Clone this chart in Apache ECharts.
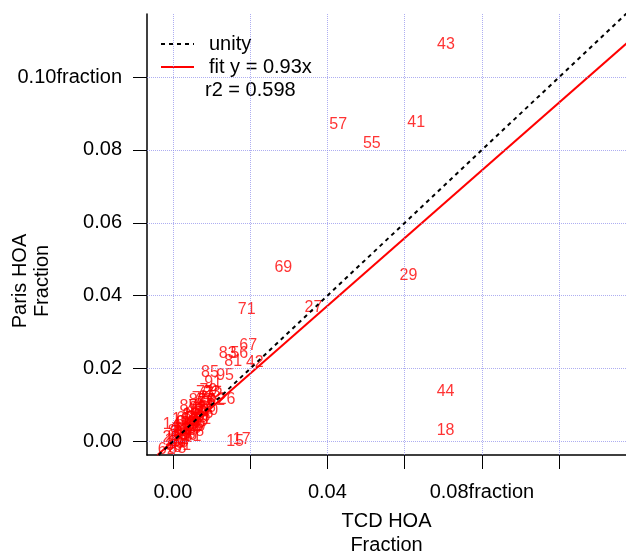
<!DOCTYPE html>
<html>
<head>
<meta charset="utf-8">
<script src="https://cdn.jsdelivr.net/npm/echarts@6/dist/echarts.min.js"></script>
<style>
  html, body { margin: 0; padding: 0; background: #fff; }
  #chart { width: 626px; height: 552px; }
</style>
</head>
<body>
<div id="chart"></div>
<script>
// Sample numbers used as text markers
const pointLabels = [
  '43', '57', '41', '55', '69', '29', '27', '71', '67', '83', '56', '81', '42',
  '85', '95', '91', '73', '26', '87', '14', '15', '17', '44', '18',
  '62', '3', '48', '10', '33', '50', '22', '5', '39', '61', '31', '2', '46',
  '7', '20', '11', '52', '36', '64', '0', '24', '78', '19', '47', '89', '12',
  '30', '59', '66', '40', '92', '53', '76', '4', '37', '58', '25', '6', '72',
  '32', '8', '16', '79', '23', '75', '1', '9', '13', '21', '28', '34', '38',
  '45', '49', '51', '54', '60', '63', '65', '68', '70', '74', '77', '80', '82'
];
// TCD HOA fraction (x)
const tcdHOA = [
  0.0707, 0.0428, 0.0630, 0.0515, 0.0286, 0.0610, 0.0364, 0.0191, 0.0195, 0.0142, 0.0172, 0.0156, 0.0212,
  0.0096, 0.0135, 0.0104, 0.0083, 0.0139, 0.0040, -0.0003, 0.0161, 0.0178, 0.0706, 0.0706,
  -0.0016, -0.0008, 0.0000, 0.0006, 0.0012, 0.0018, -0.0004, 0.0008, 0.0016, 0.0024, 0.0051, 0.0030, 0.0026,
  0.0008, 0.0016, 0.0022, 0.0034, 0.0040, 0.0030, 0.0038, 0.0046, 0.0058, 0.0044, 0.0052, 0.0062, 0.0048,
  0.0058, 0.0068, 0.0074, 0.0056, 0.0064, 0.0072, 0.0082, 0.0068, 0.0078, 0.0088, 0.0090, 0.0098, 0.0106,
  0.0112, 0.0036, 0.0020, 0.0092, 0.0100, 0.0072, -0.0010, 0.0004, 0.0012, 0.0028, 0.0036, 0.0044, 0.0050,
  0.0060, 0.0066, 0.0076, 0.0084, 0.0094, 0.0026, 0.0032, 0.0054, 0.0070, 0.0080, 0.0086, 0.0010, 0.0064
];
// Paris HOA fraction (y)
const parisHOA = [
  0.1090, 0.0869, 0.0874, 0.0817, 0.0477, 0.0454, 0.0367, 0.0362, 0.0262, 0.0240, 0.0240, 0.0218, 0.0217,
  0.0189, 0.0180, 0.0161, 0.0134, 0.0115, 0.0097, 0.0046, 0.0000, 0.0005, 0.0138, 0.0030,
  -0.0022, -0.0010, -0.0018, -0.0006, -0.0020, -0.0004, 0.0012, 0.0014, 0.0008, -0.0012, 0.0013, 0.0004, 0.0022,
  0.0034, 0.0028, 0.0042, 0.0030, 0.0016, 0.0052, 0.0044, 0.0034, 0.0026, 0.0060, 0.0050, 0.0042, 0.0074,
  0.0066, 0.0056, 0.0068, 0.0084, 0.0090, 0.0082, 0.0076, 0.0104, 0.0098, 0.0092, 0.0120, 0.0110, 0.0128,
  0.0112, 0.0070, 0.0060, 0.0140, 0.0134, 0.0118, 0.0002, 0.0024, 0.0000, 0.0010, 0.0018, 0.0048, 0.0036,
  0.0050, 0.0078, 0.0060, 0.0104, 0.0086, 0.0032, 0.0062, 0.0040, 0.0072, 0.0088, 0.0112, 0.0028, 0.0112
];

// Regression through the origin and the 1:1 reference
const fitSlope = 0.93;
const lineX = [-0.0040, 0.1180];
const unityX = [-0.0037, 0.1180];

const tickValues = [0, 0.02, 0.04, 0.06, 0.08, 0.10];
const xLabelValues = [0, 0.04, 0.08];
const yLabelValues = [0, 0.02, 0.04, 0.06, 0.08, 0.10];
const xLabelSuffix = { '0.08': 'fraction' };
const yLabelSuffix = { '0.10': 'fraction' };

const FONT = 'Arial, "Liberation Sans", sans-serif';
const gridColor = 'rgba(140,140,235,0.7)';

const chart = echarts.init(document.getElementById('chart'), null, { renderer: 'canvas' });

const gridLines = [
  ...tickValues.map(v => ({ xAxis: v })),
  ...tickValues.map(v => ({ yAxis: v }))
];

chart.setOption({
  animation: false,
  backgroundColor: '#fff',
  grid: { left: 147, top: 14, right: 0, bottom: 97, containLabel: false, outerBoundsMode: 'none' },
  xAxis: {
    type: 'value',
    min: -0.0067,
    max: 0.1173,
    name: 'TCD HOA\nFraction',
    nameLocation: 'middle',
    nameGap: 54,
    nameTextStyle: { fontSize: 20, lineHeight: 24, color: '#000', fontFamily: FONT },
    axisLine: { show: true, onZero: false, lineStyle: { color: '#000', width: 1.5 } },
    axisTick: { show: true, customValues: tickValues, length: 14, lineStyle: { color: '#000', width: 1 } },
    axisLabel: {
      customValues: xLabelValues,
      margin: 27,
      fontSize: 20,
      color: '#000',
      fontFamily: FONT,
      formatter: v => { const s = Number(v).toFixed(2); return s + (xLabelSuffix[s] || ''); }
    },
    splitLine: { show: false }
  },
  yAxis: {
    type: 'value',
    min: -0.0037,
    max: 0.1173,
    axisLine: { show: true, onZero: false, lineStyle: { color: '#000', width: 1.5 } },
    axisTick: { show: true, customValues: tickValues, length: 14, lineStyle: { color: '#000', width: 1 } },
    axisLabel: {
      customValues: yLabelValues,
      margin: 25,
      fontSize: 20,
      color: '#000',
      fontFamily: FONT,
      formatter: v => { const s = Number(v).toFixed(2); return s + (yLabelSuffix[s] || ''); }
    },
    splitLine: { show: false }
  },
  legend: {
    data: ['unity', 'fit y = 0.93x'],
    orient: 'vertical',
    left: 160,
    top: 34,
    padding: 0,
    itemWidth: 33,
    itemHeight: 14,
    itemGap: 3,
    selectedMode: false,
    itemStyle: { opacity: 0 },
    textStyle: { fontSize: 20, lineHeight: 20, color: '#000', fontFamily: FONT, padding: [0, 0, 0, 10] }
  },
  graphic: [
    {
      type: 'text', left: 205, top: 80,
      style: { text: 'r2 = 0.598', fontSize: 20, fill: '#000', fontFamily: FONT }
    },
    {
      type: 'text', x: 31, y: 281, rotation: Math.PI / 2,
      style: {
        text: 'Paris HOA\nFraction', fontSize: 20, lineHeight: 22, fill: '#000',
        fontFamily: FONT, align: 'center', verticalAlign: 'middle'
      }
    }
  ],
  series: [
    {
      name: 'grid',
      type: 'line',
      data: [],
      z: 1,
      silent: true,
      markLine: {
        silent: true,
        symbol: ['none', 'none'],
        label: { show: false },
        lineStyle: { type: 'dotted', color: gridColor, width: 1 },
        emphasis: { disabled: true },
        data: gridLines
      }
    },
    {
      name: 'samples',
      type: 'scatter',
      z: 2,
      silent: true,
      symbol: 'circle',
      symbolSize: 1,
      itemStyle: { color: 'rgba(0,0,0,0)' },
      label: {
        show: true,
        position: 'inside',
        formatter: p => p.value[2],
        color: '#ff0000',
        textBorderWidth: 0,
        textBorderColor: 'transparent',
        fontSize: 16,
        fontFamily: FONT
      },
      emphasis: { disabled: true },
      data: tcdHOA.map((x, i) => [x, parisHOA[i], pointLabels[i]])
    },
    {
      name: 'fit y = 0.93x',
      type: 'line',
      z: 4,
      silent: true,
      symbol: 'none',
      lineStyle: { color: '#ff0000', width: 2 },
      itemStyle: { color: '#ff0000' },
      data: lineX.map(x => [x, fitSlope * x])
    },
    {
      name: 'unity',
      type: 'line',
      z: 5,
      silent: true,
      symbol: 'none',
      lineStyle: { color: '#000', width: 2, type: [4, 4] },
      itemStyle: { color: '#000' },
      data: unityX.map(x => [x, x])
    }
  ]
});
</script>
</body>
</html>
